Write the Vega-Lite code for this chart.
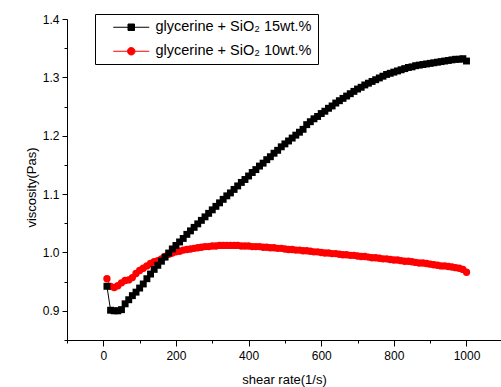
{
  "$schema": "https://vega.github.io/schema/vega-lite/v6.json",
  "width": 434,
  "height": 321,
  "autosize": {"type": "none"},
  "padding": {"left": 67, "top": 19, "right": 0, "bottom": 47},
  "background": "white",
  "config": {
    "view": {"stroke": null},
    "font": "Liberation Sans",
    "axis": {
      "domainColor": "black",
      "domainWidth": 1,
      "tickColor": "black",
      "tickWidth": 1,
      "grid": false,
      "labelColor": "black",
      "labelFont": "Liberation Sans",
      "labelFontSize": 12,
      "titleFont": "Liberation Sans",
      "titleFontSize": 13,
      "titleFontWeight": "normal",
      "titleColor": "black"
    }
  },
  "data": {
    "values": [
      {"rate": 10, "s15": 0.942, "s10": 0.955},
      {"rate": 20, "s15": 0.901, "s10": 0.942},
      {"rate": 30, "s15": 0.900, "s10": 0.940},
      {"rate": 40, "s15": 0.900, "s10": 0.943},
      {"rate": 50, "s15": 0.902, "s10": 0.948},
      {"rate": 60, "s15": 0.912, "s10": 0.952},
      {"rate": 70, "s15": 0.919, "s10": 0.953},
      {"rate": 80, "s15": 0.926, "s10": 0.957},
      {"rate": 90, "s15": 0.932, "s10": 0.964},
      {"rate": 100, "s15": 0.939, "s10": 0.969},
      {"rate": 110, "s15": 0.946, "s10": 0.973},
      {"rate": 120, "s15": 0.955, "s10": 0.977},
      {"rate": 130, "s15": 0.963, "s10": 0.981},
      {"rate": 140, "s15": 0.971, "s10": 0.984},
      {"rate": 150, "s15": 0.978, "s10": 0.986},
      {"rate": 160, "s15": 0.985, "s10": 0.989},
      {"rate": 170, "s15": 0.992, "s10": 0.993},
      {"rate": 180, "s15": 0.999, "s10": 0.997},
      {"rate": 190, "s15": 1.006, "s10": 0.999},
      {"rate": 200, "s15": 1.012, "s10": 1.001},
      {"rate": 210, "s15": 1.018, "s10": 1.002},
      {"rate": 220, "s15": 1.024, "s10": 1.004},
      {"rate": 230, "s15": 1.031, "s10": 1.005},
      {"rate": 240, "s15": 1.037, "s10": 1.006},
      {"rate": 250, "s15": 1.043, "s10": 1.007},
      {"rate": 260, "s15": 1.049, "s10": 1.008},
      {"rate": 270, "s15": 1.055, "s10": 1.009},
      {"rate": 280, "s15": 1.061, "s10": 1.010},
      {"rate": 290, "s15": 1.067, "s10": 1.010},
      {"rate": 300, "s15": 1.073, "s10": 1.011},
      {"rate": 310, "s15": 1.079, "s10": 1.011},
      {"rate": 320, "s15": 1.085, "s10": 1.012},
      {"rate": 330, "s15": 1.091, "s10": 1.012},
      {"rate": 340, "s15": 1.097, "s10": 1.012},
      {"rate": 350, "s15": 1.102, "s10": 1.012},
      {"rate": 360, "s15": 1.108, "s10": 1.012},
      {"rate": 370, "s15": 1.114, "s10": 1.012},
      {"rate": 380, "s15": 1.120, "s10": 1.011},
      {"rate": 390, "s15": 1.125, "s10": 1.011},
      {"rate": 400, "s15": 1.131, "s10": 1.011},
      {"rate": 410, "s15": 1.137, "s10": 1.010},
      {"rate": 420, "s15": 1.142, "s10": 1.010},
      {"rate": 430, "s15": 1.148, "s10": 1.010},
      {"rate": 440, "s15": 1.153, "s10": 1.009},
      {"rate": 450, "s15": 1.159, "s10": 1.009},
      {"rate": 460, "s15": 1.164, "s10": 1.008},
      {"rate": 470, "s15": 1.170, "s10": 1.008},
      {"rate": 480, "s15": 1.175, "s10": 1.007},
      {"rate": 490, "s15": 1.181, "s10": 1.007},
      {"rate": 500, "s15": 1.186, "s10": 1.006},
      {"rate": 510, "s15": 1.191, "s10": 1.005},
      {"rate": 520, "s15": 1.196, "s10": 1.005},
      {"rate": 530, "s15": 1.201, "s10": 1.004},
      {"rate": 540, "s15": 1.206, "s10": 1.004},
      {"rate": 550, "s15": 1.211, "s10": 1.003},
      {"rate": 560, "s15": 1.219, "s10": 1.003},
      {"rate": 570, "s15": 1.224, "s10": 1.002},
      {"rate": 580, "s15": 1.229, "s10": 1.001},
      {"rate": 590, "s15": 1.233, "s10": 1.001},
      {"rate": 600, "s15": 1.238, "s10": 1.000},
      {"rate": 610, "s15": 1.242, "s10": 0.999},
      {"rate": 620, "s15": 1.247, "s10": 0.999},
      {"rate": 630, "s15": 1.251, "s10": 0.998},
      {"rate": 640, "s15": 1.256, "s10": 0.998},
      {"rate": 650, "s15": 1.260, "s10": 0.997},
      {"rate": 660, "s15": 1.264, "s10": 0.996},
      {"rate": 670, "s15": 1.268, "s10": 0.996},
      {"rate": 680, "s15": 1.272, "s10": 0.995},
      {"rate": 690, "s15": 1.276, "s10": 0.995},
      {"rate": 700, "s15": 1.280, "s10": 0.994},
      {"rate": 710, "s15": 1.283, "s10": 0.993},
      {"rate": 720, "s15": 1.287, "s10": 0.993},
      {"rate": 730, "s15": 1.290, "s10": 0.992},
      {"rate": 740, "s15": 1.293, "s10": 0.991},
      {"rate": 750, "s15": 1.296, "s10": 0.991},
      {"rate": 760, "s15": 1.299, "s10": 0.990},
      {"rate": 770, "s15": 1.302, "s10": 0.989},
      {"rate": 780, "s15": 1.305, "s10": 0.989},
      {"rate": 790, "s15": 1.307, "s10": 0.988},
      {"rate": 800, "s15": 1.309, "s10": 0.987},
      {"rate": 810, "s15": 1.311, "s10": 0.987},
      {"rate": 820, "s15": 1.313, "s10": 0.986},
      {"rate": 830, "s15": 1.315, "s10": 0.985},
      {"rate": 840, "s15": 1.317, "s10": 0.985},
      {"rate": 850, "s15": 1.318, "s10": 0.984},
      {"rate": 860, "s15": 1.320, "s10": 0.983},
      {"rate": 870, "s15": 1.321, "s10": 0.982},
      {"rate": 880, "s15": 1.322, "s10": 0.982},
      {"rate": 890, "s15": 1.323, "s10": 0.981},
      {"rate": 900, "s15": 1.324, "s10": 0.980},
      {"rate": 910, "s15": 1.325, "s10": 0.979},
      {"rate": 920, "s15": 1.326, "s10": 0.978},
      {"rate": 930, "s15": 1.327, "s10": 0.977},
      {"rate": 940, "s15": 1.328, "s10": 0.977},
      {"rate": 950, "s15": 1.329, "s10": 0.976},
      {"rate": 960, "s15": 1.330, "s10": 0.975},
      {"rate": 970, "s15": 1.331, "s10": 0.974},
      {"rate": 980, "s15": 1.331, "s10": 0.973},
      {"rate": 990, "s15": 1.332, "s10": 0.971},
      {"rate": 1000, "s15": 1.328, "s10": 0.966}
    ]
  },
  "transform": [
    {"fold": ["s15", "s10"], "as": ["sample", "visc"]}
  ],
  "encoding": {
    "x": {
      "field": "rate",
      "type": "quantitative",
      "title": "shear rate(1/s)",
      "scale": {"domain": [-100, 1095], "nice": false, "zero": false},
      "axis": {
        "values": [-100, 0, 100, 200, 300, 400, 500, 600, 700, 800, 900, 1000],
        "format": "d",
        "labelExpr": "datum.value % 200 === 0 ? datum.label : ''",
        "tickSize": {"condition": {"test": "datum.value % 200 === 0", "value": 6}, "value": 3},
        "labelPadding": 4,
        "titlePadding": 12
      }
    },
    "y": {
      "field": "visc",
      "type": "quantitative",
      "title": "viscosity(Pas)",
      "scale": {"domain": [0.85, 1.4], "nice": false, "zero": false},
      "axis": {
        "values": [0.85, 0.9, 0.95, 1.0, 1.05, 1.1, 1.15, 1.2, 1.25, 1.3, 1.35, 1.4],
        "labelExpr": "round(datum.value * 20) % 2 === 0 ? format(datum.value, '.1f') : ''",
        "tickSize": {"condition": {"test": "round(datum.value * 20) % 2 === 0", "value": 5}, "value": 3},
        "labelPadding": 3,
        "titlePadding": 4,
        "titleY": 168
      }
    },
    "color": {
      "field": "sample",
      "type": "nominal",
      "scale": {"domain": ["s15", "s10"], "range": ["#000000", "#ff0000"]},
      "legend": {
        "orient": "none",
        "legendX": 28,
        "legendY": -5,
        "title": null,
        "strokeColor": "black",
        "fillColor": "white",
        "padding": 6,
        "rowPadding": 9,
        "symbolSize": 100,
        "symbolOffset": 23,
        "labelOffset": 17,
        "labelLimit": 300,
        "labelFont": "Liberation Sans",
        "labelFontSize": 14.5,
        "labelColor": "black",
        "labelExpr": "datum.value === 's15' ? 'glycerine + SiO₂ 15wt.%' : 'glycerine + SiO₂ 10wt.%'",
        "encode": {
          "symbols": {
            "update": {
              "shape": {"signal": "datum.value === 's15' ? 'M-3.6,0H-0.6M0.6,0H3.6M-0.65,-0.65H0.65V0.65H-0.65Z' : 'M-3.6,0H-0.75M0.75,0H3.6M-0.75,0A0.75,0.75 0 1,0 0.75,0A0.75,0.75 0 1,0 -0.75,0Z'"},
              "fill": {"signal": "datum.value === 's15' ? '#000000' : '#ff0000'"},
              "stroke": {"signal": "datum.value === 's15' ? '#000000' : '#ff0000'"},
              "strokeWidth": {"value": 1},
              "opacity": {"value": 1}
            }
          }
        }
      }
    }
  },
  "layer": [
    {
      "mark": {"type": "line", "strokeWidth": 1},
      "encoding": {"order": {"field": "rate"}}
    },
    {
      "transform": [{"filter": "datum.sample === 's10'"}],
      "mark": {"type": "point", "shape": "circle", "filled": true, "opacity": 1, "strokeWidth": 0, "size": 54}
    },
    {
      "transform": [{"filter": "datum.sample === 's15'"}],
      "mark": {"type": "point", "shape": "square", "filled": true, "opacity": 1, "strokeWidth": 0, "size": 48}
    }
  ]
}
